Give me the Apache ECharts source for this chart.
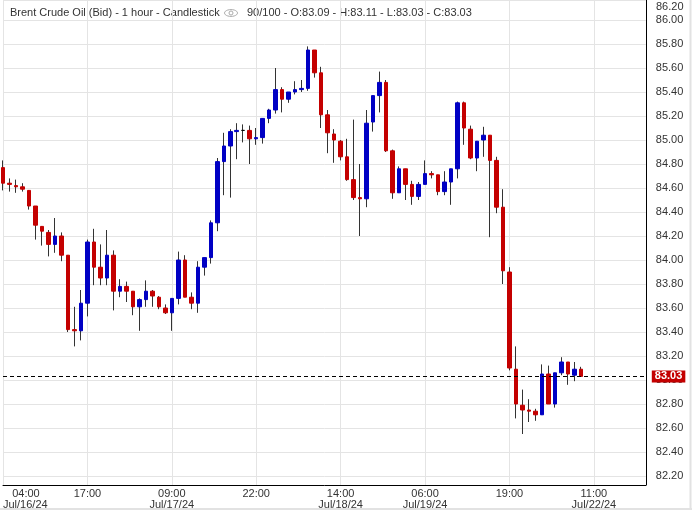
<!DOCTYPE html>
<html>
<head>
<meta charset="utf-8">
<title>Brent Crude Oil (Bid) - 1 hour - Candlestick</title>
<script src="https://cdn.jsdelivr.net/npm/echarts@6/dist/echarts.min.js"></script>
<style>
    html, body { margin: 0; padding: 0; background: #fff; }
    #chart { width: 692px; height: 510px; }
</style>
</head>
<body>
<div id="chart"></div>
<script>
// hourly candles, 90 of 100 slots used
const opens = [
    84.77, 84.64, 84.62, 84.61, 84.58, 84.45, 84.28, 84.23, 84.13, 84.20,
    84.04, 83.42, 83.41, 83.64, 84.15, 83.94, 83.85, 84.04, 83.74, 83.78,
    83.74, 83.61, 83.67, 83.74, 83.69, 83.60, 83.56, 83.68, 84.00, 83.69,
    83.64, 83.94, 84.02, 84.31, 84.82, 84.95, 85.07, 85.08, 85.08, 85.01,
    85.02, 85.18, 85.25, 85.42, 85.34, 85.40, 85.42, 85.43, 85.75, 85.56,
    85.21, 85.05, 84.99, 84.86, 84.67, 84.52, 84.51, 85.15, 85.37, 85.48,
    84.91, 84.56, 84.76, 84.63, 84.53, 84.63, 84.72, 84.71, 84.57, 84.65,
    84.76, 85.31, 85.09, 84.85, 85.00, 85.04, 84.83, 84.44, 83.90, 83.09,
    82.79, 82.75, 82.74, 82.71, 83.05, 82.80, 83.06, 83.15, 83.04, 83.09
];
const highs = [
    84.83, 84.68, 84.67, 84.64, 84.58, 84.45, 84.28, 84.25, 84.35, 84.23,
    84.04, 83.61, 83.75, 84.17, 84.26, 84.13, 84.25, 84.08, 83.84, 83.82,
    83.74, 83.68, 83.83, 83.75, 83.70, 83.63, 83.68, 84.07, 84.04, 83.73,
    83.99, 84.02, 84.33, 84.85, 85.06, 85.09, 85.14, 85.13, 85.12, 85.10,
    85.18, 85.26, 85.60, 85.44, 85.40, 85.49, 85.50, 85.78, 85.75, 85.61,
    85.25, 85.09, 85.00, 85.01, 85.17, 84.80, 85.25, 85.37, 85.57, 85.50,
    84.92, 84.78, 84.76, 84.66, 84.65, 84.83, 84.74, 84.71, 84.74, 84.76,
    85.32, 85.32, 85.12, 84.99, 85.11, 85.04, 84.86, 84.59, 83.94, 83.28,
    82.92, 82.84, 82.76, 83.13, 83.12, 83.06, 83.19, 83.15, 83.15, 83.11
];
const lows = [
    84.58, 84.57, 84.56, 84.57, 84.42, 84.17, 84.12, 84.03, 84.06, 83.99,
    83.40, 83.28, 83.33, 83.53, 83.79, 83.79, 83.79, 83.58, 83.69, 83.65,
    83.54, 83.41, 83.61, 83.61, 83.59, 83.55, 83.41, 83.63, 83.69, 83.59,
    83.56, 83.87, 83.97, 84.24, 84.54, 84.52, 84.84, 84.98, 84.80, 84.96,
    84.97, 85.14, 85.22, 85.23, 85.31, 85.38, 85.40, 85.41, 85.52, 85.10,
    84.89, 84.81, 84.83, 84.66, 84.50, 84.20, 84.44, 85.07, 85.23, 84.90,
    84.51, 84.56, 84.50, 84.46, 84.50, 84.63, 84.68, 84.54, 84.54, 84.46,
    84.68, 84.96, 84.84, 84.74, 84.86, 84.19, 84.39, 83.80, 83.08, 82.68,
    82.55, 82.65, 82.66, 82.71, 82.80, 82.77, 83.04, 82.96, 82.99, 83.03
];
const closes = [
    84.64, 84.63, 84.61, 84.59, 84.45, 84.29, 84.24, 84.13, 84.20, 84.04,
    83.42, 83.41, 83.64, 84.15, 83.94, 83.85, 84.04, 83.74, 83.78, 83.74,
    83.61, 83.67, 83.74, 83.70, 83.61, 83.56, 83.68, 84.00, 83.69, 83.64,
    83.94, 84.02, 84.31, 84.82, 84.95, 85.07, 85.08, 85.08, 85.01, 85.02,
    85.18, 85.25, 85.42, 85.34, 85.40, 85.42, 85.43, 85.75, 85.56, 85.21,
    85.06, 85.00, 84.86, 84.67, 84.52, 84.51, 85.14, 85.37, 85.48, 84.91,
    84.56, 84.76, 84.63, 84.53, 84.63, 84.72, 84.71, 84.57, 84.65, 84.76,
    85.31, 85.10, 84.85, 84.99, 85.04, 84.83, 84.44, 83.91, 83.10, 82.80,
    82.75, 82.74, 82.71, 83.05, 82.80, 83.06, 83.15, 83.05, 83.09, 83.03
];

const slotCount = 100;
const tickStep = 13;
const tickLabels = [
    '   04:00\nJul/16/24', '17:00', '09:00\nJul/17/24', '22:00',
    '14:00\nJul/18/24', '06:00\nJul/19/24', '19:00', '11:00\nJul/22/24'
];
const yMin = 82.125;
const yMax = 86.1667;

const categories = [];
for (let i = 0; i < slotCount; i++) {
    categories.push(i % tickStep === 0 ? (tickLabels[i / tickStep] || '') : '');
}

// wicks: full range; bodies: open/close only
const wickData = opens.map((o, i) => [o, closes[i], lows[i], highs[i]]);
const bodyData = opens.map((o, i) => [o, closes[i], Math.min(o, closes[i]), Math.max(o, closes[i])]);

const last = opens.length - 1;
const lastClose = closes[last];
const fmt = v => v.toFixed(2);

const RED = '#c40000';
const BLUE = '#0000c4';
const FONT = '"Liberation Sans", Arial, sans-serif';

// little eye icon next to the title
const eyePts = [];
for (let k = 0; k < 24; k++) {
    const a = k / 24 * Math.PI * 2;
    eyePts.push([231 + 6.5 * Math.cos(a), 13 + 3.4 * Math.sin(a)]);
}

var myChart = echarts.init(document.getElementById('chart'), null, { renderer: 'canvas' });
const option = {
    animation: false,
    backgroundColor: '#fff',
    textStyle: { fontFamily: FONT },
    grid: { left: 2.3, right: 46.2, top: 0, bottom: 25, containLabel: false },
    graphic: [
        {
            type: 'text', left: 10, top: 7,
            style: { text: 'Brent Crude Oil (Bid) - 1 hour - Candlestick', fill: '#333', font: '11px ' + FONT }
        },
        {
            type: 'polygon', shape: { points: eyePts },
            style: { fill: 'none', stroke: '#aaa', lineWidth: 1 }
        },
        {
            type: 'circle', shape: { cx: 231, cy: 13, r: 2 },
            style: { fill: 'none', stroke: '#aaa', lineWidth: 1 }
        },
        {
            type: 'text', left: 247, top: 7,
            style: {
                text: '90/100 - O:' + fmt(opens[last]) + ' - H:' + fmt(highs[last]) +
                    ' - L:' + fmt(lows[last]) + ' - C:' + fmt(lastClose),
                fill: '#333', font: '11px ' + FONT
            }
        },
        {
            type: 'text', left: 656, top: 1,
            style: { text: '86.20', fill: '#333', font: '11px ' + FONT }
        },
        {
            type: 'line', shape: { x1: 690.5, y1: 0, x2: 690.5, y2: 510 },
            style: { stroke: '#e2e2e2', lineWidth: 2 }
        },
        {
            type: 'line', shape: { x1: 0, y1: 509, x2: 692, y2: 509 },
            style: { stroke: '#e2e2e2', lineWidth: 2 }
        }
    ],
    xAxis: {
        type: 'category',
        data: categories,
        boundaryGap: false,
        axisLine: { lineStyle: { color: '#000', width: 1 } },
        axisTick: { show: false },
        axisLabel: {
            interval: (idx) => idx % tickStep === 0,
            color: '#333',
            fontSize: 11,
            lineHeight: 11,
            margin: 3,
            alignMinLabel: 'left'
        },
        splitLine: {
            show: true,
            interval: (idx) => idx % tickStep === 0,
            lineStyle: { color: '#e4e4e4', width: 1 }
        }
    },
    yAxis: {
        type: 'value',
        position: 'right',
        scale: true,
        min: yMin,
        max: yMax,
        splitNumber: 20,
        axisLine: { show: true, lineStyle: { color: '#000', width: 1 } },
        axisTick: { show: false },
        axisLabel: {
            color: '#333',
            fontSize: 11,
            margin: 10,
            showMinLabel: false,
            showMaxLabel: false,
            formatter: v => v.toFixed(2)
        },
        splitLine: { show: true, lineStyle: { color: '#e4e4e4', width: 1 } }
    },
    series: [
        {
            name: 'wick',
            type: 'candlestick',
            data: wickData,
            barWidth: 1,
            clip: false,
            silent: true,
            itemStyle: {
                color: '#333', color0: '#333',
                borderColor: '#333', borderColor0: '#333', borderColorDoji: '#333',
                borderWidth: 1
            }
        },
        {
            name: 'body',
            type: 'candlestick',
            data: bodyData,
            barWidth: 4,
            clip: false,
            silent: true,
            itemStyle: {
                color: BLUE, color0: RED,
                borderColor: BLUE, borderColor0: RED, borderColorDoji: '#000',
                borderWidth: 1
            },
            markLine: {
                silent: true,
                symbol: ['none', 'none'],
                lineStyle: { color: '#000', type: [4, 3], width: 1 },
                label: {
                    show: true,
                    position: 'end',
                    distance: 6,
                    formatter: () => fmt(lastClose),
                    color: '#fff',
                    fontWeight: 'bold',
                    fontSize: 11,
                    backgroundColor: RED,
                    padding: [1, 3, 0, 3]
                },
                data: [{ yAxis: lastClose }]
            }
        }
    ]
};
myChart.setOption(option);
</script>
</body>
</html>
